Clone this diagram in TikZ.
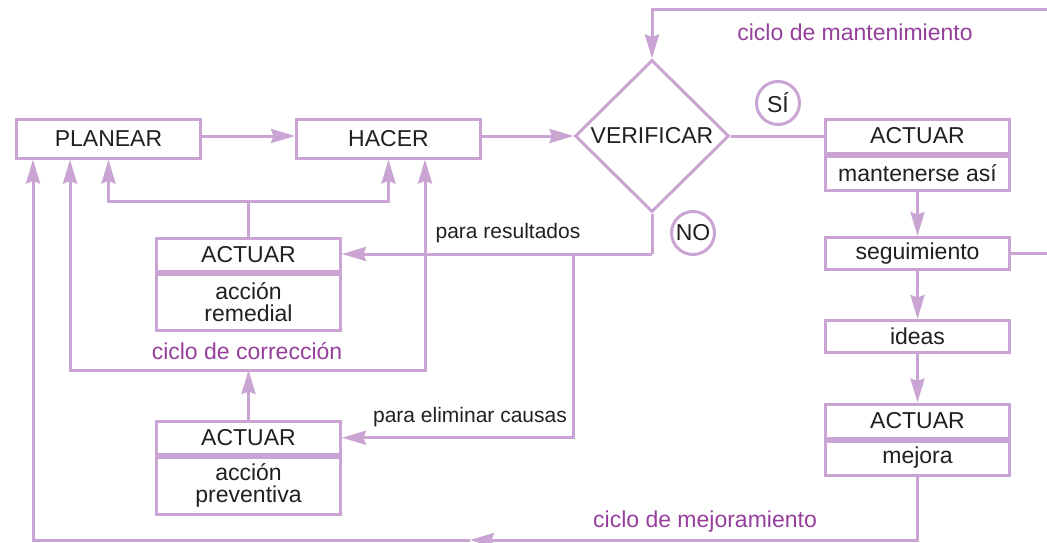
\documentclass[tikz,border=0pt]{standalone}
\usepackage{fontspec}
\setmainfont{Liberation Sans}
\usetikzlibrary{arrows.meta, shapes.geometric, positioning, calc}
\definecolor{lila}{RGB}{202,164,210}
\definecolor{lilatexto}{RGB}{150,62,155}
\definecolor{tinta}{RGB}{35,31,32}
\tikzset{
	caja/.style={draw=lila, line width=3pt, fill=white, text=tinta, inner sep=0pt, minimum width=184pt, minimum height=34pt, align=center, font=\fontsize{23}{22}\selectfont},
	linea/.style={draw=lila, line width=3pt},
	flecha/.style={linea, -{Stealth[length=24pt, width=14pt, inset=2.5pt]}},
	etiq/.style={text=tinta, font=\fontsize{21}{22}\selectfont},
	ciclo/.style={text=lilatexto, font=\fontsize{23}{24}\selectfont},
}

\begin{document}
\begin{tikzpicture}[x=1pt, y=-1pt]
	\useasboundingbox (0,0) rectangle (1047,543);
	% fila superior
	\node[caja, minimum height=39pt] (planear) at (108.5,138.5) {PLANEAR};
	\node[caja, minimum height=39pt] (hacer) at (388.5,138.5) {HACER};
	\node[caja, diamond, minimum width=154pt, minimum height=152pt] (verif) at (652,136) {VERIFICAR};
	\node[caja, circle, minimum size=43pt] (si) at (778,103) {SÍ};
	\node[caja, circle, minimum size=43pt] (no) at (693,233) {NO};
	% columna derecha
	\node[caja] (actA) at (917.5,136) {ACTUAR};
	\node[caja, below=0pt of actA] (mant) {mantenerse así};
	\node[caja, minimum height=32pt] (seg) at (917.5,253.5) {seguimiento};
	\node[caja, minimum height=32pt] (ideas) at (917.5,336.5) {ideas};
	\node[caja] (actM) at (917.5,421) {ACTUAR};
	\node[caja, below=0pt of actM] (mejora) {mejora};
	% acciones
	\node[caja, minimum height=32.5pt] (actR) at (248.5,254.75) {ACTUAR};
	\node[caja, minimum height=56.5pt, below=0pt of actR] (remed) {acción\\remedial};
	\node[caja, minimum height=32.5pt] (actP) at (248.5,437.75) {ACTUAR};
	\node[caja, minimum height=57.5pt, below=0pt of actP] (prev) {acción\\preventiva};
	% textos
	\node[etiq] (pres) at (508,233) {para resultados};
	\node[etiq] (pelim) at (470,417) {para eliminar causas};
	\node[ciclo] (ccorr) at (247,351) {ciclo de corrección};
	\node[ciclo] (cmant) at (855,32) {ciclo de mantenimiento};
	\node[ciclo] (cmej) at (705,522) {ciclo de mejoramiento};
	% puntos de paso
	\coordinate (x1) at (33,0);
	\coordinate (x2) at (70,0);
	\coordinate (x3) at (425,0);
	\coordinate (rj) at (248.5,201);
	\coordinate (pj) at (248.5,370);
	\coordinate (nj) at (652,254);
	\coordinate (nk) at (573,254);
	\coordinate (mj) at (470,540);

	\draw[flecha] (planear.east |- verif.west) -- (hacer.west |- verif.west);
	\draw[flecha] (hacer.east |- verif.west) -- (verif.west);
	\draw[linea] (verif.east) -- (actA.west);
	\draw[flecha] (mant) -- (seg);
	\draw[flecha] (seg) -- (ideas);
	\draw[flecha] (ideas) -- (actM);
	% ciclo de mantenimiento
	\draw[flecha] (seg.east) -| (1065,10) -| (verif.north);
	% ciclo de mejoramiento
	\draw[flecha] (mejora.south) |- (mj);
	\draw[flecha] (mj) -| (x1 |- planear.south);
	% NO
	\draw[linea] (verif.south) -- (nj);
	\draw[flecha] (nj) -- (nj -| actR.east);
	\draw[flecha] (nk) |- (actP.east);
	% accion remedial
	\draw[linea] (actR.north) -- (rj);
	\draw[flecha] (rj) -| (planear.south);
	\draw[flecha] (rj) -| (hacer.south);
	% ciclo de correccion
	\draw[flecha] (actP.north) -- (pj);
	\draw[flecha] (pj) -| (x2 |- planear.south);
	\draw[flecha] (pj) -| (x3 |- hacer.south);
\end{tikzpicture}
\end{document}
